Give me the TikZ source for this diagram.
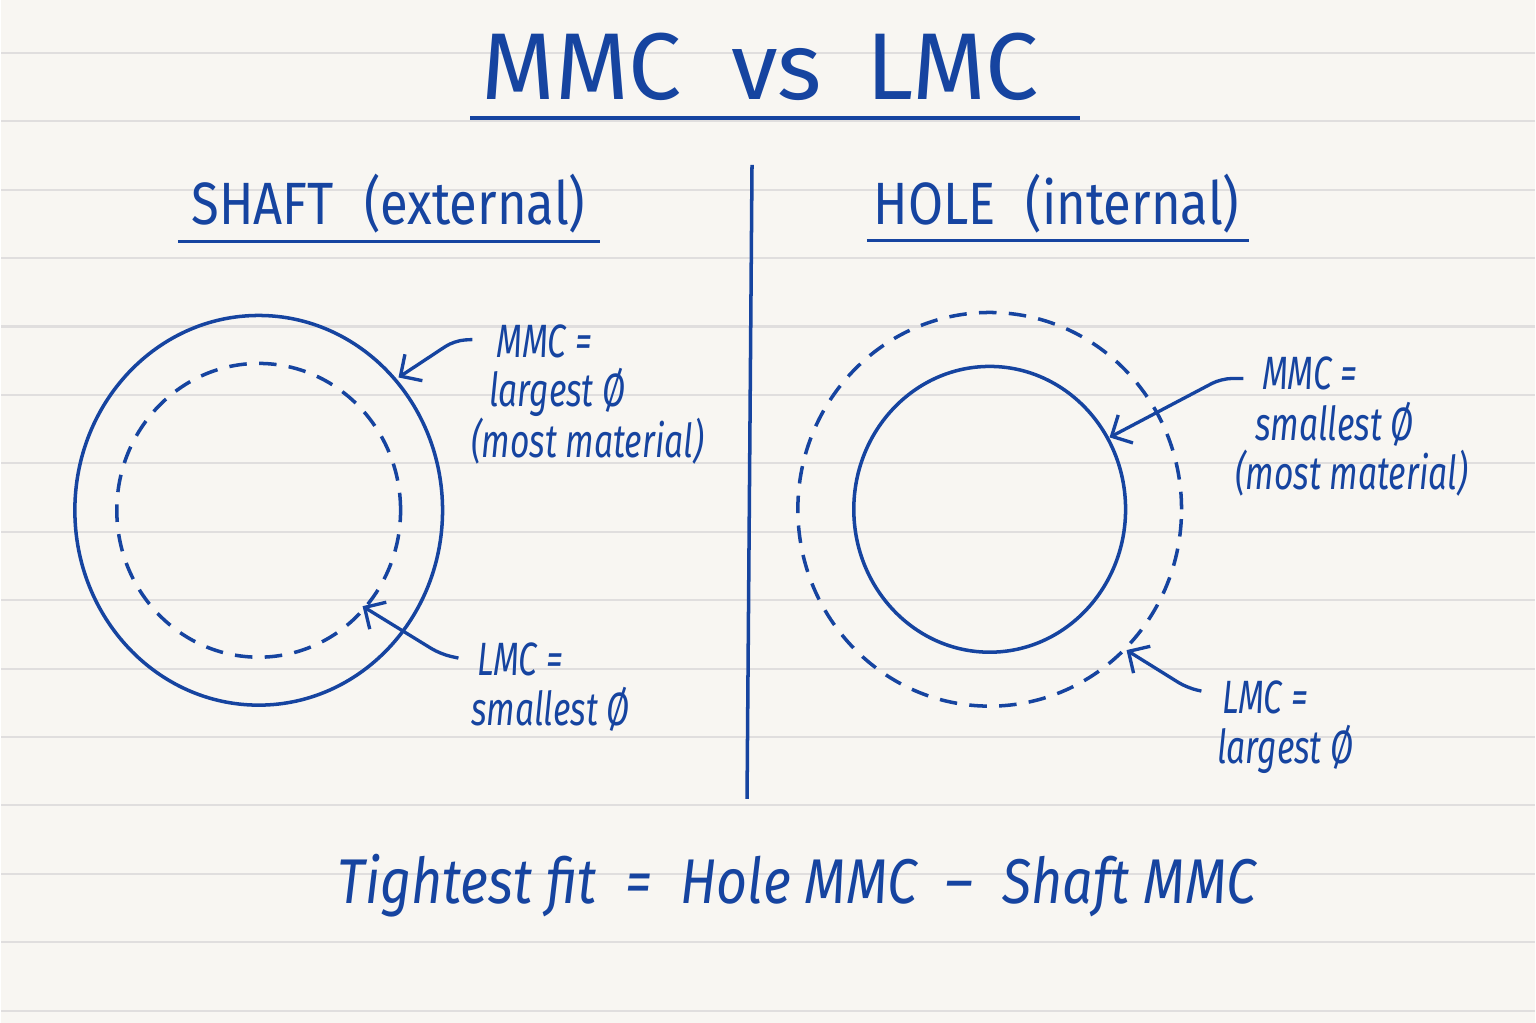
\documentclass[tikz,border=0pt]{standalone}
\usepackage{fontspec}
\setmainfont{Fira Sans}
\newfontfamily\handfont[FakeStretch=0.85]{Fira Sans}
\newfontfamily\notefont[FakeStretch=0.72]{Fira Sans}
\usetikzlibrary{arrows.meta}
\definecolor{ink}{RGB}{22,68,160}
\definecolor{paper}{RGB}{248,246,242}
\definecolor{ruling}{RGB}{224,222,222}

\begin{document}
\begin{tikzpicture}[x=0.01cm,y=-0.01cm,
    inkline/.style={ink,line width=1pt},
    dashline/.style={ink,line width=1pt,dash pattern=on 5pt off 3.5pt},
    pointer/.style={ink,line width=0.95pt,rounded corners=3pt,-{Straight Barb[length=4.5pt,width=9pt]}},
    note/.style={ink,anchor=base west,inner sep=0pt,font=\notefont\itshape\fontsize{13.3}{15}\selectfont},
    heading/.style={ink,anchor=base,inner sep=0pt,font=\handfont\fontsize{17}{20}\selectfont}]
        % Paper
        \fill[paper] (0,0) rectangle (1536,1024);
        \foreach \k in {0,...,14}
          \draw[ruling,line width=0.6pt] (0,{53+68.5*\k}) -- (1536,{53+68.5*\k});
        % Define points
        \coordinate (sC) at (258,511);
        \coordinate (hC) at (990,510);
        \coordinate (divT) at (752,165);
        \coordinate (divB) at (747,800);
        % Title
        \node[ink,anchor=base,inner sep=0pt,font=\fontsize{27}{30}\selectfont]
          (title) at (760,100) {MMC\hspace{0.5cm}vs\hspace{0.45cm}LMC};
        \coordinate (titleL) at (470,118);
        \coordinate (titleR) at (1080,118);
        \draw[ink,line width=1.2pt] (titleL) -- (titleR);
        % Headings
        \node[heading] (shaft) at (388,225) {SHAFT\hspace{0.3cm}(external)};
        \node[heading] (hole) at (1057,225) {HOLE\hspace{0.3cm}(internal)};
        \coordinate (shaftL) at (177,242);
        \coordinate (shaftR) at (600,242);
        \coordinate (holeL) at (867,241);
        \coordinate (holeR) at (1250,241);
        \draw[inkline] (shaftL) -- (shaftR);
        \draw[inkline] (holeL) -- (holeR);
        % Divider
        \draw[inkline] (divT) -- (divB);
        % Shaft: MMC outside, LMC inside
        \draw[inkline] (sC) ellipse [x radius=1.84cm,y radius=1.95cm];
        \draw[dashline] (sC) ellipse [x radius=1.42cm,y radius=1.47cm];
        % Hole: MMC inside, LMC outside
        \draw[inkline] (hC) ellipse [x radius=1.36cm,y radius=1.43cm];
        \draw[dashline] (hC) ellipse [x radius=1.92cm,y radius=1.97cm];
        % Notes, shaft side
        \node[note] (sMa) at (495,358) {MMC =};
        \node[note] (sMb) at (488,407) {largest Ø};
        \node[note] (sMc) at (470,458) {(most material)};
        \node[note] (sLa) at (476,676) {LMC =};
        \node[note] (sLb) at (470,726) {smallest Ø};
        % Notes, hole side
        \node[note] (hMa) at (1262,390) {MMC =};
        \node[note] (hMb) at (1255,441) {smallest Ø};
        \node[note] (hMc) at (1235,490) {(most material)};
        \node[note] (hLa) at (1222,714) {LMC =};
        \node[note] (hLb) at (1217,765) {largest Ø};
        % Pointers
        \coordinate (sMtail) at (472,340);
        \coordinate (sMtip) at (398,378);
        \coordinate (sLtail) at (458,659);
        \coordinate (sLtip) at (362,607);
        \coordinate (hMtail) at (1244,379);
        \coordinate (hMtip) at (1110,438);
        \coordinate (hLtail) at (1202,692);
        \coordinate (hLtip) at (1127,651);
        \draw[pointer] (sMtail) -- ++(-18,1) -- (sMtip);
        \draw[pointer] (sLtail) -- ++(-18,-4) -- (sLtip);
        \draw[pointer] (hMtail) -- ++(-22,0) -- (hMtip);
        \draw[pointer] (hLtail) -- ++(-14,-3) -- (hLtip);
        % Bottom line
        \node[ink,anchor=base,inner sep=0pt,font=\handfont\itshape\fontsize{18}{22}\selectfont]
          (fit) at (797,905) {Tightest fit\hspace{0.15cm} = \hspace{0.15cm}Hole MMC\hspace{0.15cm} – \hspace{0.15cm}Shaft MMC};
\end{tikzpicture}
\end{document}
